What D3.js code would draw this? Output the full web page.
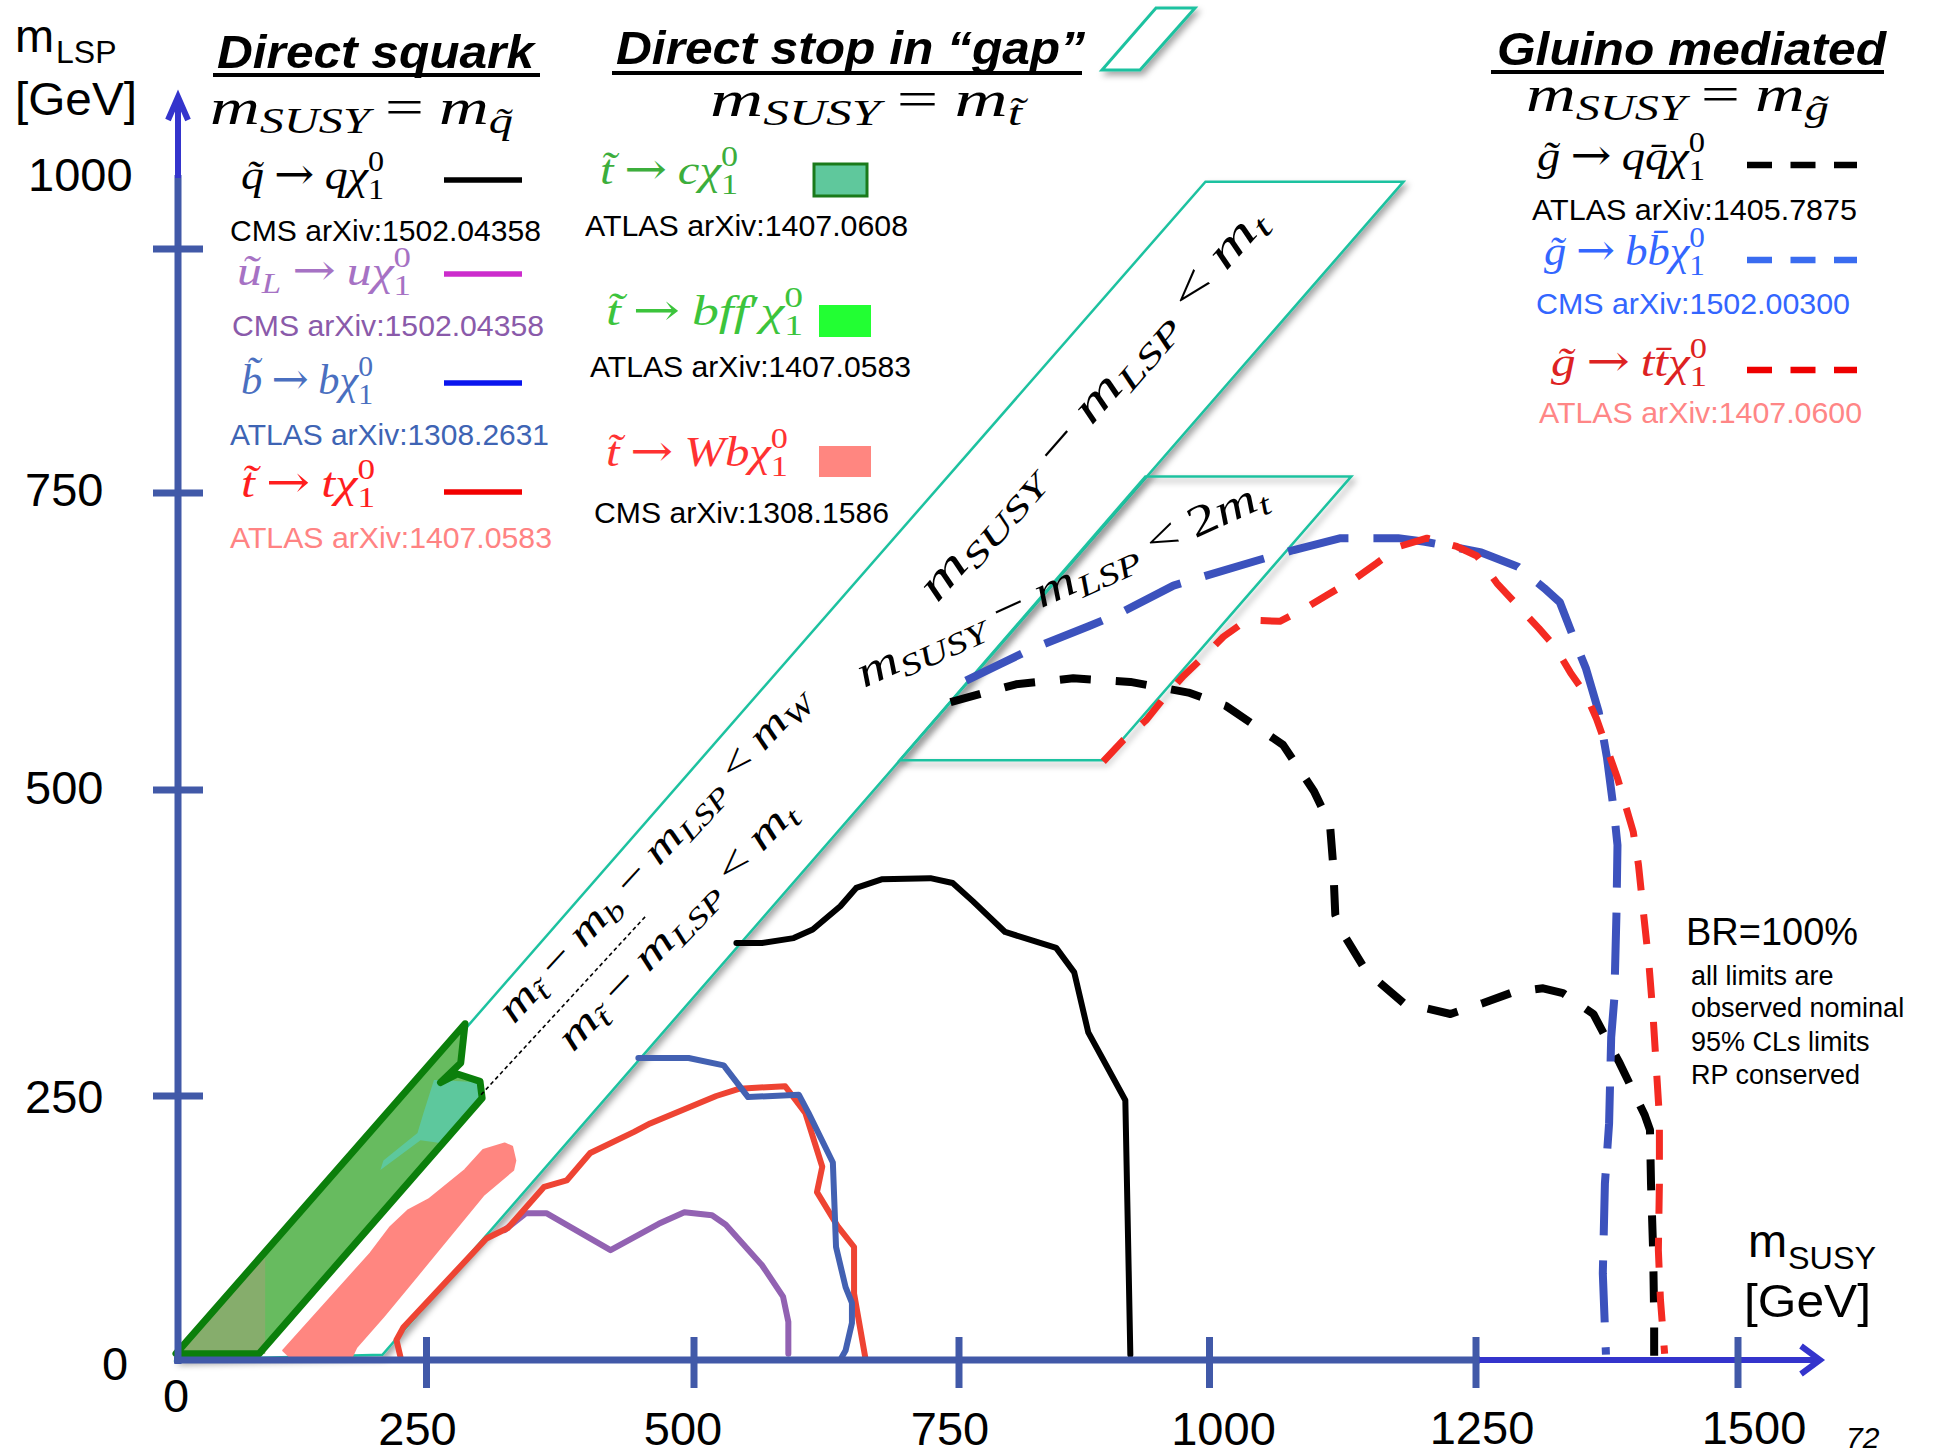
<!DOCTYPE html>
<html><head><meta charset="utf-8"><title>SUSY limits summary</title>
<script src="https://cdn.jsdelivr.net/npm/d3@7"></script>
<style>html,body{margin:0;padding:0;background:#fff;}svg{display:block;}</style>
</head><body>
<svg id="chart" width="1933" height="1456"></svg>
<script>
// ================= DATA =================
const xTicks = [0, 250, 500, 750, 1000, 1250, 1500];
const yTicks = [0, 250, 500, 750, 1000];

// exclusion contours: [m_SUSY, m_LSP] in GeV
const squarkQ = [[540,375],[564,375],[594,379],[612,386],[638,405],[653,420],[677,427],[723,428],[744,424],[764,409],[796,384],[847,371],[865,351],[879,302],[893,281],[916,246],[921,5]];
const squarkUL = [[323,123],[343,139],[362,139],[422,104],[467,129],[491,140],[517,137],[530,128],[564,90],[584,60],[589,36],[589,6]];
const sbottomB = [[448,281],[495,281],[528,275],[551,249],[599,251],[608,234],[631,187],[634,107],[643,69],[649,54],[649,35],[643,9],[639,2]];
const stopT = [[224,3],[220,19],[227,31],[306,115],[326,125],[360,164],[381,170],[403,196],[444,216],[459,224],[521,250],[543,256],[586,258],[605,234],[621,183],[616,159],[636,126],[651,107],[651,63],[662,0]];
const gluinoQQ = [[742,574],[776,582],[807,589],[864,594],[921,591],[979,582],[1015,571],[1069,538],[1098,499],[1113,472],[1116,439],[1118,398],[1128,379],[1147,352],[1182,326],[1226,317],[1257,326],[1286,335],[1314,338],[1333,334],[1340,330],[1362,317],[1375,296],[1387,277],[1400,254],[1411,232],[1416,218],[1417,167],[1419,104],[1420,41],[1420,4]];
const gluinoBB = [[757,592],[791,606],[823,619],[880,638],[911,649],[964,672],[995,680],[1044,693],[1079,702],[1123,712],[1177,712],[1202,709],[1255,700],[1290,688],[1315,670],[1330,658],[1345,624],[1355,602],[1367,566],[1370,552],[1375,527],[1382,480],[1385,455],[1384,398],[1382,330],[1379,298],[1377,224],[1373,167],[1371,82],[1374,5]];
const gluinoTT = [[894,524],[914,542],[937,559],[954,577],[974,596],[994,612],[1013,629],[1035,643],[1066,642],[1088,652],[1110,664],[1135,677],[1157,691],[1178,705],[1204,712],[1232,705],[1251,697],[1270,674],[1290,655],[1310,636],[1325,621],[1340,599],[1355,580],[1365,560],[1375,535],[1385,510],[1400,466],[1405,439],[1410,398],[1415,358],[1419,315],[1422,274],[1425,230],[1425,167],[1424,104],[1426,57],[1430,6]];

// filled regions (stop in the "gap")
const stopCharmOutline = [[0,6],[83,6],[302,248],[300,262],[279,268],[263,261],[282,277],[286,309]];
const stopCharmLowPart = [[0,6],[89,6],[89,98]];
const stopCharmTeal = [[263,263],[300,261],[300,246],[266,205],[244,208],[204,180],[207,189],[241,215],[247,234],[257,263]];
const stopWb = [[107,9],[117,0],[122,3],[167,1],[174,0],[180,12],[207,41],[240,79],[303,156],[331,180],[333,189],[330,202],[323,205],[303,199],[286,180],[252,152],[232,142],[214,126],[194,101]];

// kinematic bands
const bandMt = [[0,0],[996,1069],[1182,1069],[206,5]];
const band2Mt = [[694,525],[936,767],[1133,767],[895,525]];
const bandSeparator = [[301,251],[456,398]];

// texts
const titles = ['Direct squark', 'Direct stop in \u201cgap\u201d', 'Gluino mediated'];
const headers = ['m_{SUSY} = m_{q\u0303}', 'm_{SUSY} = m_{t\u0303}', 'm_{SUSY} = m_{g\u0303}'];
const squarkDecays = ['q\u0303 \u2192 q\u03c7_1^0', 'u\u0303_L \u2192 u\u03c7_1^0', 'b\u0303 \u2192 b\u03c7_1^0', 't\u0303 \u2192 t\u03c7_1^0'];
const squarkRefs = ['CMS arXiv:1502.04358', 'CMS arXiv:1502.04358', 'ATLAS arXiv:1308.2631', 'ATLAS arXiv:1407.0583'];
const stopDecays = ['t\u0303 \u2192 c\u03c7_1^0', 't\u0303 \u2192 bff\u2032\u03c7_1^0', 't\u0303 \u2192 Wb\u03c7_1^0'];
const stopRefs = ['ATLAS arXiv:1407.0608', 'ATLAS arXiv:1407.0583', 'CMS arXiv:1308.1586'];
const gluinoDecays = ['g\u0303 \u2192 qq\u0304\u03c7_1^0', 'g\u0303 \u2192 bb\u0304\u03c7_1^0', 'g\u0303 \u2192 tt\u0304\u03c7_1^0'];
const gluinoRefs = ['ATLAS arXiv:1405.7875', 'CMS arXiv:1502.00300', 'ATLAS arXiv:1407.0600'];
const bandLabels = ['m_{SUSY} \u2212 m_{LSP} < m_t', 'm_{SUSY} \u2212 m_{LSP} < 2m_t', 'm_{t\u0303} \u2212 m_b \u2212 m_{LSP} < m_W', 'm_{t\u0303} \u2212 m_{LSP} < m_t'];
const brTitle = 'BR=100%';
const notes = ['all limits are', 'observed nominal', '95% CLs limits', 'RP conserved'];

// ================= LAYOUT / STYLE =================
const SANS = "'Liberation Sans', Arial, sans-serif";
const SERIF = "'Liberation Serif', 'Times New Roman', serif";
const OPFONT = "'DejaVu Serif', 'Liberation Serif', serif";
const AXIS = '#4159a8', AXIS2 = '#3434cc';

const svg = d3.select('#chart');
const defs = svg.append('defs');
defs.append('filter').attr('id','shadow').attr('x','-20%').attr('y','-20%').attr('width','140%').attr('height','140%')
  .append('feDropShadow').attr('dx',3).attr('dy',4).attr('stdDeviation',3)
  .attr('flood-color','#000').attr('flood-opacity',0.35);

const x = d3.scaleLinear().domain(xTicks).range([176, 426.5, 694, 959, 1209.5, 1476, 1738]);
const y = d3.scaleLinear().domain(yTicks).range([1360, 1096, 790, 493, 249]);
const line = d3.line().x(d => x(d[0])).y(d => y(d[1]));
const closed = pts => line(pts) + 'Z';

// ---------- math text helper (one <text> per formula) ----------
function tokenize(s) {
  const out = []; let i = 0, base = '';
  const readGroup = () => {
    if (s[i] === '{') { const j = s.indexOf('}', i); const g = s.slice(i + 1, j); i = j + 1; return g; }
    let g = s[i]; i++;
    while (i < s.length && /[\u0300-\u036f]/.test(s[i])) { g += s[i]; i++; }
    return g;
  };
  while (i < s.length) {
    const c = s[i];
    if (c === '_' || c === '^') {
      if (base) { out.push({ base }); base = ''; }
      i++;
      const g = readGroup();
      const key = c === '_' ? 'sub' : 'sup';
      const last = out[out.length - 1];
      if (last && last.script && !last[key]) last[key] = g; else out.push({ script: true, [key]: g });
    } else { base += c; i++; }
  }
  if (base) out.push({ base });
  return out;
}
function runs(t) {
  const res = [];
  for (const ch of t) {
    let type;
    if (ch === ' ') type = 'sp';
    else if (/[\u0300-\u036f]/.test(ch)) type = res.length ? res[res.length - 1].type : 'it';
    else if (ch === '\u2192') type = 'op';
    else type = /[A-Za-z\u03b1-\u03c9]/.test(ch) ? 'it' : 'up';
    if (res.length && res[res.length - 1].type === type) res[res.length - 1].t += ch;
    else res.push({ t: ch, type });
  }
  return res;
}
function drawRuns(te, t, x0, dy, size, color) {
  let xx = x0;
  for (const r of runs(t)) {
    if (r.type === 'sp') { xx += size * 0.22 * r.t.length; continue; }
    const el = te.append('tspan').attr('x', xx).attr('y', dy)
      .attr('font-size', r.type === 'op' ? size * 1.05 : size)
      .attr('font-family', r.type === 'op' ? OPFONT : SERIF)
      .attr('font-style', r.type === 'it' ? 'italic' : 'normal')
      .attr('fill', color).text(r.t);
    xx += el.node().getComputedTextLength();
  }
  return xx;
}
function mathLabel(str, o) {
  const outer = svg.append('g').attr('transform', `translate(${o.x},${o.y}) rotate(${o.angle || 0})`);
  const inner = outer.append('g');
  const te = inner.append('text');
  let xx = 0;
  for (const tk of tokenize(str)) {
    if (tk.base !== undefined) xx = drawRuns(te, tk.base, xx, 0, o.size, o.color);
    else {
      const s = o.size * 0.7; let w1 = xx, w2 = xx;
      if (tk.sup) w1 = drawRuns(te, tk.sup, xx, -o.size * 0.42, s, o.color);
      if (tk.sub) w2 = drawRuns(te, tk.sub, xx, o.size * (tk.sup ? 0.24 : 0.18), s, o.color);
      xx = Math.max(w1, w2);
    }
  }
  if (o.width) inner.attr('transform', `scale(${o.width / xx},1)`);
  return outer;
}
function txt(x0, y0, s, o = {}) {
  const t = svg.append('text').attr('x', x0).attr('y', y0)
    .attr('font-family', o.family || SANS).attr('font-size', o.size || 30)
    .attr('font-weight', o.weight || 'normal').attr('font-style', o.style || 'normal')
    .attr('fill', o.color || '#000').attr('text-anchor', o.anchor || 'start').text(s);
  if (o.width) t.attr('textLength', o.width).attr('lengthAdjust', 'spacingAndGlyphs');
  return t;
}

// ---------- kinematic band (white, shadow) ----------
svg.append('path').attr('d', closed(bandMt)).attr('fill', '#fff')
  .attr('stroke', '#1fc2a0').attr('stroke-width', 2.5).attr('filter', 'url(#shadow)');

// ---------- filled stop regions ----------
svg.append('path').attr('d', closed(stopWb)).attr('fill', '#ff8680').attr('stroke', '#ff8680').attr('stroke-width', 2).attr('stroke-linejoin', 'round');
svg.append('path').attr('d', closed(stopCharmOutline)).attr('fill', '#67bb5f');
svg.append('path').attr('d', closed(stopCharmLowPart)).attr('fill', '#86ad6c');
svg.append('path').attr('d', closed(stopCharmTeal)).attr('fill', '#5dc89d');
svg.append('path').attr('d', closed(stopCharmOutline)).attr('fill', 'none')
  .attr('stroke', '#0b7f0b').attr('stroke-width', 7).attr('stroke-linejoin', 'round');

// ---------- separator inside band ----------
svg.append('path').attr('d', line(bandSeparator)).attr('fill', 'none')
  .attr('stroke', '#000').attr('stroke-width', 1.6).attr('stroke-dasharray', '4,3');

// ---------- solid contours ----------
const solids = [
  { d: squarkUL, c: '#9262b2' },
  { d: stopT, c: '#ee4433' },
  { d: sbottomB, c: '#4361b2' },
  { d: squarkQ, c: '#000000' }
];
solids.forEach(s => svg.append('path').attr('d', line(s.d)).attr('fill', 'none')
  .attr('stroke', s.c).attr('stroke-width', 6).attr('stroke-linejoin', 'round').attr('stroke-linecap', 'round'));

// ---------- small 2m_t parallelogram ----------
svg.append('path').attr('d', closed(band2Mt)).attr('fill', 'none')
  .attr('stroke', '#1fc2a0').attr('stroke-width', 2.5).attr('filter', 'url(#shadow)');

// ---------- dashed gluino contours ----------
const dashed = [
  { d: gluinoQQ, c: '#000000', dash: '31,25', w: 8 },
  { d: gluinoBB, c: '#3c52bd', dash: '62,25', w: 8 },
  { d: gluinoTT, c: '#f42a22', dash: '30,24', w: 7 }
];
dashed.forEach(s => svg.append('path').attr('d', line(s.d)).attr('fill', 'none')
  .attr('stroke', s.c).attr('stroke-width', s.w).attr('stroke-dasharray', s.dash).attr('stroke-linejoin', 'round'));

// ---------- band labels ----------
const bandLabelLayout = [
  { x: 937, y: 604, angle: -49, width: 505, size: 46 },
  { x: 864, y: 688, angle: -24.3, width: 446, size: 44 },
  { x: 514, y: 1025, angle: -47.5, width: 440, size: 40 },
  { x: 573, y: 1053, angle: -46.6, width: 328, size: 40 }
];
bandLabels.forEach((s, i) => mathLabel(s, Object.assign({ color: '#000' }, bandLabelLayout[i])));

// ---------- axes ----------
const ax = svg.append('g');
ax.append('line').attr('x1', 178).attr('x2', 178).attr('y1', 1364).attr('y2', 175).attr('stroke', AXIS).attr('stroke-width', 7);
ax.append('line').attr('x1', 178).attr('x2', 178).attr('y1', 178).attr('y2', 99).attr('stroke', AXIS2).attr('stroke-width', 6);
ax.append('path').attr('d', 'M168,120 L178,97 L188,120').attr('fill', 'none').attr('stroke', AXIS2).attr('stroke-width', 6).attr('stroke-linejoin', 'miter');
ax.append('line').attr('x1', 174).attr('x2', 1480).attr('y1', 1360).attr('y2', 1360).attr('stroke', AXIS).attr('stroke-width', 7);
ax.append('line').attr('x1', 1476).attr('x2', 1816).attr('y1', 1360).attr('y2', 1360).attr('stroke', AXIS2).attr('stroke-width', 6);
ax.append('path').attr('d', 'M1801,1346 L1820,1360 L1801,1374').attr('fill', 'none').attr('stroke', AXIS2).attr('stroke-width', 6);

yTicks.filter(v => v > 0).forEach(v => ax.append('line').attr('x1', 153).attr('x2', 203)
  .attr('y1', y(v)).attr('y2', y(v)).attr('stroke', AXIS).attr('stroke-width', 7));
xTicks.filter(v => v > 0).forEach(v => ax.append('line').attr('x1', x(v)).attr('x2', x(v))
  .attr('y1', 1337).attr('y2', 1388).attr('stroke', AXIS).attr('stroke-width', 7));

// tick labels (hand placed on the original slide -> small offsets)
const yLabelShift = { 0: [102, 20], 250: [25, 17], 500: [25, 14], 750: [25, 13], 1000: [28, -58] };
yTicks.forEach(v => txt(yLabelShift[v][0], y(v) + yLabelShift[v][1], String(v), { size: 47 }));
const xLabelShift = { 0: [0, 52], 250: [-9, 85], 500: [-11, 85], 750: [-9, 85], 1000: [14, 85], 1250: [6, 84], 1500: [16, 84] };
xTicks.forEach(v => txt(x(v) + xLabelShift[v][0], 1360 + xLabelShift[v][1], String(v), { size: 47, anchor: 'middle' }));

// axis titles
txt(15, 52, 'm', { size: 47 }); txt(56, 63, 'LSP', { size: 32 }); txt(15, 115, '[GeV]', { size: 47, width: 122 });
txt(1748, 1257, 'm', { size: 47 }); txt(1788, 1269, 'SUSY', { size: 32, width: 88 }); txt(1744, 1317, '[GeV]', { size: 47, width: 127 });
txt(1846, 1448, '72', { size: 30, style: 'italic' });

// ---------- titles ----------
const titleLayout = [
  { x: 217, y: 68, w: 317, ux1: 213, ux2: 540, uy: 75 },
  { x: 616, y: 64, w: 469, ux1: 612, ux2: 1082, uy: 73 },
  { x: 1497, y: 65, w: 389, ux1: 1491, ux2: 1884, uy: 72 }
];
titles.forEach((t, i) => {
  const L = titleLayout[i];
  txt(L.x, L.y, t, { size: 47, weight: 'bold', style: 'italic', width: L.w });
  svg.append('line').attr('x1', L.ux1).attr('x2', L.ux2).attr('y1', L.uy).attr('y2', L.uy).attr('stroke', '#000').attr('stroke-width', 4);
});
svg.append('path').attr('d', 'M1102,70 L1156,8 L1195,8 L1140,70 Z').attr('fill', '#fff')
  .attr('stroke', '#1fc2a0').attr('stroke-width', 3).attr('filter', 'url(#shadow)');

const headerLayout = [{ x: 210, y: 124, width: 303 }, { x: 710, y: 116, width: 312 }, { x: 1526, y: 111, width: 303 }];
headers.forEach((h, i) => mathLabel(h, Object.assign({ size: 50, color: '#000' }, headerLayout[i])));

// ---------- squark legend ----------
const squarkStyle = [
  { tc: '#000', rc: '#000', lc: '#000' },
  { tc: '#a672c4', rc: '#8a5aaa', lc: '#cc2ccc' },
  { tc: '#4a6fc0', rc: '#3e64b4', lc: '#0a16ee' },
  { tc: '#ff1e1e', rc: '#ff8383', lc: '#f20000' }
];
const sqLay = { fx: [241, 237, 241, 241], fy: [189, 285, 394, 497], fw: [143, 174, 132, 134], ly: [180, 274, 383, 492], ry: [241, 336, 445, 548], rx: [230, 232, 230, 230], rw: [311, 312, 319, 322] };
squarkDecays.forEach((d, i) => {
  const st = squarkStyle[i];
  mathLabel(d, { x: sqLay.fx[i], y: sqLay.fy[i], size: 42, width: sqLay.fw[i], color: st.tc });
  svg.append('line').attr('x1', 444).attr('x2', 522).attr('y1', sqLay.ly[i]).attr('y2', sqLay.ly[i]).attr('stroke', st.lc).attr('stroke-width', 5.5);
  txt(sqLay.rx[i], sqLay.ry[i], squarkRefs[i], { size: 30, color: st.rc, width: sqLay.rw[i] });
});

// ---------- stop legend ----------
const stopStyle = [
  { tc: '#3cae3c', fill: '#5fc89c', stroke: '#1a7a1a' },
  { tc: '#3cc43c', fill: '#22ff33', stroke: 'none' },
  { tc: '#ff3232', fill: '#ff8680', stroke: 'none' }
];
const stLay = { fx: [600, 606, 606], fy: [184, 325, 466], fw: [138, 197, 182], box: [[814, 164, 53, 32], [819, 305, 52, 32], [819, 446, 52, 31]], rx: [585, 590, 594], ry: [236, 377, 523], rw: [323, 321, 295] };
stopDecays.forEach((d, i) => {
  const st = stopStyle[i], b = stLay.box[i];
  mathLabel(d, { x: stLay.fx[i], y: stLay.fy[i], size: 42, width: stLay.fw[i], color: st.tc });
  svg.append('rect').attr('x', b[0]).attr('y', b[1]).attr('width', b[2]).attr('height', b[3])
    .attr('fill', st.fill).attr('stroke', st.stroke).attr('stroke-width', 3);
  txt(stLay.rx[i], stLay.ry[i], stopRefs[i], { size: 30, width: stLay.rw[i] });
});

// ---------- gluino legend ----------
const gluinoStyle = [
  { tc: '#000', rc: '#000', lc: '#000' },
  { tc: '#3366ff', rc: '#3366ff', lc: '#3a6cf0' },
  { tc: '#dd2222', rc: '#ff8686', lc: '#ee0000' }
];
const glLay = { fx: [1537, 1544, 1551], fy: [170, 265, 376], fw: [168, 161, 156], ly: [165, 260, 370], rx: [1532, 1536, 1539], ry: [220, 314, 423], rw: [325, 314, 323] };
gluinoDecays.forEach((d, i) => {
  const st = gluinoStyle[i];
  mathLabel(d, { x: glLay.fx[i], y: glLay.fy[i], size: 42, width: glLay.fw[i], color: st.tc });
  svg.append('line').attr('x1', 1747).attr('x2', 1857).attr('y1', glLay.ly[i]).attr('y2', glLay.ly[i])
    .attr('stroke', st.lc).attr('stroke-width', 6.5).attr('stroke-dasharray', '25,18.5');
  txt(glLay.rx[i], glLay.ry[i], gluinoRefs[i], { size: 30, color: st.rc, width: glLay.rw[i] });
});

// ---------- notes ----------
txt(1686, 945, brTitle, { size: 38, width: 172 });
const noteY = [985, 1017, 1051, 1084];
notes.forEach((n, i) => txt(1691, noteY[i], n, { size: 27 }));
</script>
</body></html>
